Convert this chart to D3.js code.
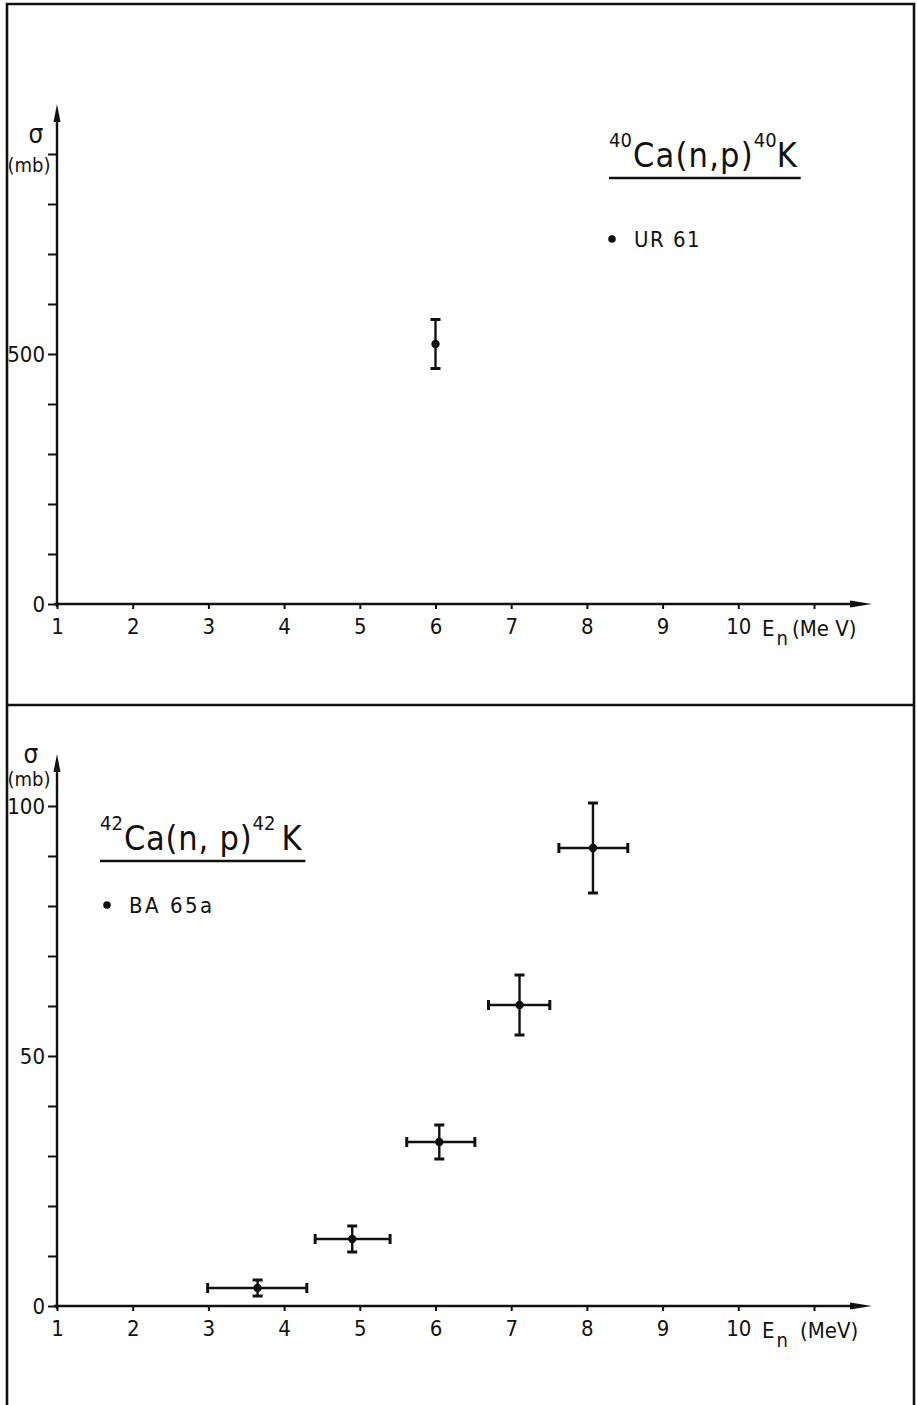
<!DOCTYPE html>
<html><head><meta charset="utf-8">
<script src="https://cdn.jsdelivr.net/npm/d3@7"></script>
<style>
body{margin:0;background:#fff}
svg{display:block}
text{font-family:"Liberation Sans Narrow","DejaVu Sans Condensed","Arial Narrow",sans-serif;fill:#111}
</style>
</head><body>
<svg id="c" width="917" height="1405"></svg>
<script>
// ---- data ----
const xTicks = [1,2,3,4,5,6,7,8,9,10,11];
const xTickLabels = ["1","2","3","4","5","6","7","8","9","10",""];

const topYTicks = [0,100,200,300,400,500,600,700,800,900];
const topYLabelValues = [0,500];
const topSeriesName = "UR 61";
const topE = [6.0];
const topSigma = [520];
const topSigmaErr = [49];

const botYTicks = [0,10,20,30,40,50,60,70,80,90,100];
const botYLabelValues = [0,50,100];
const botSeriesName = "BA 65a";
const botE = [3.65, 4.90, 6.05, 7.11, 8.08];
const botELow = [2.99, 4.41, 5.62, 6.70, 7.63];
const botEHigh = [4.30, 5.40, 6.52, 7.51, 8.54];
const botSigma = [3.6, 13.4, 32.8, 60.2, 91.6];
const botSigmaErr = [1.6, 2.6, 3.4, 6.0, 9.0];

// ---- drawing ----
const svg = d3.select("#c");
const INK = "#111";
const SW = 2.4;

// frame
svg.append("path")
  .attr("d","M7,1410 V4 H914 V1410")
  .attr("fill","none").attr("stroke",INK).attr("stroke-width",2.6);
svg.append("line").attr("x1",7).attr("x2",914).attr("y1",705).attr("y2",705)
  .attr("stroke",INK).attr("stroke-width",2.6);

const x = d3.scaleLinear().domain([1,11]).range([57,814]);

function panel(opts){
  const {y, yTicks, yLabelValues, arrowTop, unitGap} = opts;
  const g = svg.append("g");
  const y0 = y(0);

  // x axis
  const xa = g.append("g").attr("transform",`translate(0,${y0})`)
    .call(d3.axisBottom(x).tickValues(xTicks).tickSize(5).tickPadding(9)
      .tickFormat((d,i)=>xTickLabels[i]));
  xa.select(".domain").remove();
  xa.selectAll("line").attr("stroke",INK).attr("stroke-width",2);
  xa.selectAll("text").attr("font-size",22).attr("fill",INK).style("font-family",null);
  g.append("line").attr("x1",x(1)-3).attr("x2",855).attr("y1",y0).attr("y2",y0)
    .attr("stroke",INK).attr("stroke-width",SW);
  g.append("path").attr("d",`M850,${y0-3.5} L872,${y0} L850,${y0+3.5} Z`).attr("fill",INK);

  // x label
  const xl = g.append("text").attr("x",762).attr("y",y0+32).attr("font-size",22);
  xl.append("tspan").text("E");
  xl.append("tspan").attr("font-size",20).attr("dy",9).attr("dx",2).text("n");
  xl.append("tspan").attr("font-size",22).attr("dy",-9).attr("dx",unitGap).text(opts.unit);

  // y axis
  const ya = g.append("g").attr("transform",`translate(${x(1)},0)`)
    .call(d3.axisLeft(y).tickValues(yTicks).tickSize(9).tickPadding(3)
      .tickFormat(d=> yLabelValues.includes(d) ? String(d) : ""));
  ya.select(".domain").remove();
  ya.selectAll("line").attr("stroke",INK).attr("stroke-width",2);
  ya.selectAll("text").attr("font-size",22).attr("fill",INK).style("font-family",null);
  g.append("line").attr("x1",x(1)).attr("x2",x(1)).attr("y1",y0+3).attr("y2",arrowTop+12)
    .attr("stroke",INK).attr("stroke-width",SW);
  g.append("path").attr("d",`M${x(1)-3.5},${arrowTop+18} L${x(1)},${arrowTop} L${x(1)+3.5},${arrowTop+18} Z`).attr("fill",INK);

  // y label
  g.append("text").attr("x",opts.sigmaX).attr("y",opts.sigmaY).attr("font-size",26)
    .attr("text-anchor","middle").text("σ");
  g.append("text").attr("x",29).attr("y",opts.mbY).attr("font-size",20)
    .attr("text-anchor","middle").text("(mb)");

  // title
  const t = g.append("text").attr("x",opts.titleX).attr("y",opts.titleY).attr("font-size",34);
  t.append("tspan").attr("font-size",20).attr("dy",-20).text(opts.mass);
  t.append("tspan").attr("dy",20).attr("dx",1).attr("letter-spacing",opts.ls).text(opts.reaction);
  t.append("tspan").attr("font-size",20).attr("dy",-20).attr("dx",opts.superGap).text(opts.mass);
  t.append("tspan").attr("dy",20).attr("dx",opts.kGap).text("K");
  const bb = t.node().getBBox();
  g.append("line").attr("x1",bb.x).attr("x2",bb.x+bb.width+3)
    .attr("y1",opts.titleY+11).attr("y2",opts.titleY+11)
    .attr("stroke",INK).attr("stroke-width",2.6);

  // legend
  g.append("circle").attr("cx",opts.legX).attr("cy",opts.legY-8).attr("r",3.8).attr("fill",INK);
  g.append("text").attr("x",opts.legX+22).attr("y",opts.legY).attr("font-size",22)
    .attr("letter-spacing",opts.legLs).text(opts.series);

  // data
  const pts = opts.data;
  const m = g.append("g").attr("stroke",INK).attr("stroke-width",SW).attr("fill","none");
  pts.forEach(p=>{
    const cx = x(p.e), cy = y(p.s);
    const yt = y(p.s+p.err), yb = y(p.s-p.err);
    m.append("line").attr("x1",cx).attr("x2",cx).attr("y1",yt).attr("y2",yb);
    m.append("line").attr("x1",cx-5).attr("x2",cx+5).attr("y1",yt).attr("y2",yt).attr("stroke-width",3);
    m.append("line").attr("x1",cx-5).attr("x2",cx+5).attr("y1",yb).attr("y2",yb).attr("stroke-width",3);
    if(p.lo!=null){
      const xl0 = x(p.lo), xh0 = x(p.hi);
      m.append("line").attr("x1",xl0).attr("x2",xh0).attr("y1",cy).attr("y2",cy);
      m.append("line").attr("x1",xl0).attr("x2",xl0).attr("y1",cy-5).attr("y2",cy+5).attr("stroke-width",3);
      m.append("line").attr("x1",xh0).attr("x2",xh0).attr("y1",cy-5).attr("y2",cy+5).attr("stroke-width",3);
    }
    g.append("circle").attr("cx",cx).attr("cy",cy).attr("r",4.2).attr("fill",INK);
  });
}

panel({
  y: d3.scaleLinear().domain([0,500]).range([604,354]),
  yTicks: topYTicks, yLabelValues: topYLabelValues, arrowTop: 104,
  unit: "(Me V)", unitGap: 4,
  sigmaX: 36, sigmaY: 143, mbY: 172,
  mass: "40", reaction: "Ca(n,p)", ls: 1.2, superGap: 0, kGap: 0,
  titleX: 609, titleY: 167,
  legX: 612, legY: 247, legLs: 1.5, series: topSeriesName,
  data: topE.map((e,i)=>({e, s: topSigma[i], err: topSigmaErr[i]}))
});

panel({
  y: d3.scaleLinear().domain([0,100]).range([1306,806]),
  yTicks: botYTicks, yLabelValues: botYLabelValues, arrowTop: 754,
  unit: "(MeV)", unitGap: 12,
  sigmaX: 31, sigmaY: 763, mbY: 786,
  mass: "42", reaction: "Ca(n, p)", ls: 0.8, superGap: 0, kGap: 6,
  titleX: 100, titleY: 850,
  legX: 107, legY: 913, legLs: 2.5, series: botSeriesName,
  data: botE.map((e,i)=>({e, s: botSigma[i], err: botSigmaErr[i], lo: botELow[i], hi: botEHigh[i]}))
});
</script>
</body></html>
